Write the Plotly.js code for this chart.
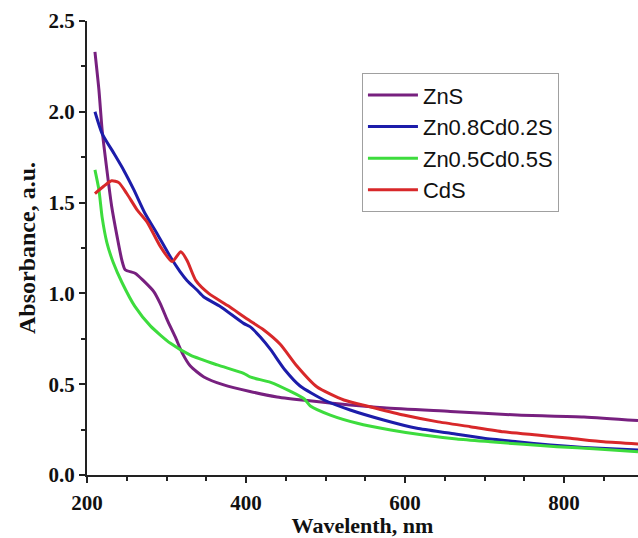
<!DOCTYPE html>
<html>
<head>
<meta charset="utf-8">
<script src="https://cdn.plot.ly/plotly-3.0.1.min.js"></script>
<style>html,body{margin:0;padding:0;background:#fff;}#chart{width:638px;height:538px;}</style>
</head>
<body>
<div id="chart"></div>
<script>
// Wavelength (nm) and absorbance (a.u.)
const seriesNames = ["ZnS", "Zn0.8Cd0.2S", "Zn0.5Cd0.5S", "CdS"];

const znsX = [210,215,219,225,231,238,244,248,261,271,284,292,301,311,320,330,347,372,405,439,477,573,657,741,825,893];
const znsY = [2.33,2.12,1.90,1.68,1.48,1.31,1.18,1.13,1.11,1.07,1.01,0.945,0.853,0.76,0.67,0.60,0.54,0.496,0.46,0.43,0.41,0.37,0.35,0.33,0.32,0.30];

const zn08X = [210,219,234,246,259,273,288,305,317,326,338,347,368,397,405,418,431,449,468,498,531,573,615,657,699,741,783,825,893];
const zn08Y = [2.00,1.88,1.77,1.68,1.57,1.44,1.33,1.20,1.12,1.07,1.02,0.98,0.927,0.835,0.817,0.76,0.69,0.578,0.49,0.413,0.358,0.303,0.257,0.23,0.202,0.183,0.165,0.152,0.138];

const zn05X = [210,215,219,225,233,244,260,280,305,330,364,397,405,431,456,473,481,506,540,582,623,665,707,749,791,842,893];
const zn05Y = [1.68,1.57,1.42,1.28,1.17,1.06,0.93,0.82,0.725,0.66,0.606,0.56,0.54,0.51,0.46,0.42,0.38,0.33,0.285,0.248,0.22,0.198,0.183,0.169,0.156,0.143,0.128];

const cdsX = [210,221,231,240,250,263,276,292,307,318,326,337,353,378,401,422,443,464,489,523,556,598,640,682,724,766,808,850,893];
const cdsY = [1.55,1.59,1.62,1.61,1.55,1.46,1.39,1.26,1.175,1.23,1.18,1.07,1.00,0.93,0.86,0.80,0.72,0.60,0.486,0.413,0.376,0.33,0.294,0.266,0.238,0.22,0.202,0.183,0.171];

const xTickVals = [200, 400, 600, 800];
const yTickVals = [0, 0.5, 1.0, 1.5, 2.0, 2.5];
const yTickText = ["0.0", "0.5", "1.0", "1.5", "2.0", "2.5"];

const colors = ["#77207f", "#1c1caa", "#3ddc3d", "#d8282a"];
const xs = [znsX, zn08X, zn05X, cdsX];
const ys = [znsY, zn08Y, zn05Y, cdsY];

const traces = seriesNames.map((n, i) => ({
  type: "scatter", mode: "lines", name: n,
  x: xs[i], y: ys[i],
  line: {color: colors[i], width: 3, shape: "spline", smoothing: 0.6}
}));

const serif = '"Liberation Serif", "Times New Roman", serif';
const layout = {
  width: 638, height: 538,
  margin: {l: 87, r: 0, t: 21, b: 63},
  paper_bgcolor: "#ffffff", plot_bgcolor: "#ffffff",
  showlegend: true,
  legend: {
    x: 0.499, y: 0.885, xanchor: "left", yanchor: "top",
    bgcolor: "#ffffff", bordercolor: "#a0a0a0", borderwidth: 1,
    font: {family: '"Liberation Sans", Arial, sans-serif', size: 22, color: "#111"},
    itemwidth: 50,
    tracegroupgap: 0
  },
  xaxis: {
    range: [200, 893], showgrid: false, zeroline: false,
    showline: true, linecolor: "#222", linewidth: 2,
    ticks: "outside", ticklen: 6, tickwidth: 2, tickcolor: "#222",
    ticklabelstandoff: 2,
    tickvals: xTickVals,
    minor: {dtick: 50, tick0: 200, ticks: "outside", ticklen: 4, tickwidth: 2, tickcolor: "#222", showgrid: false},
    tickfont: {family: serif, size: 21, color: "#111", weight: "bold"},
    title: {text: "Wavelenth, nm", font: {family: serif, size: 22, color: "#111", weight: "bold"}, standoff: 6}
  },
  yaxis: {
    range: [0, 2.5], showgrid: false, zeroline: false,
    showline: true, linecolor: "#222", linewidth: 2,
    ticks: "outside", ticklen: 6, tickwidth: 2, tickcolor: "#222",
    tickvals: yTickVals, ticktext: yTickText,
    minor: {dtick: 0.25, tick0: 0, ticks: "outside", ticklen: 4, tickwidth: 2, tickcolor: "#222", showgrid: false},
    tickfont: {family: serif, size: 21, color: "#111", weight: "bold"},
    title: {text: "Absorbance, a.u.", font: {family: serif, size: 24, color: "#111", weight: "bold"}, standoff: 6}
  }
};

Plotly.newPlot("chart", traces, layout, {displayModeBar: false, staticPlot: true});
</script>
</body>
</html>
